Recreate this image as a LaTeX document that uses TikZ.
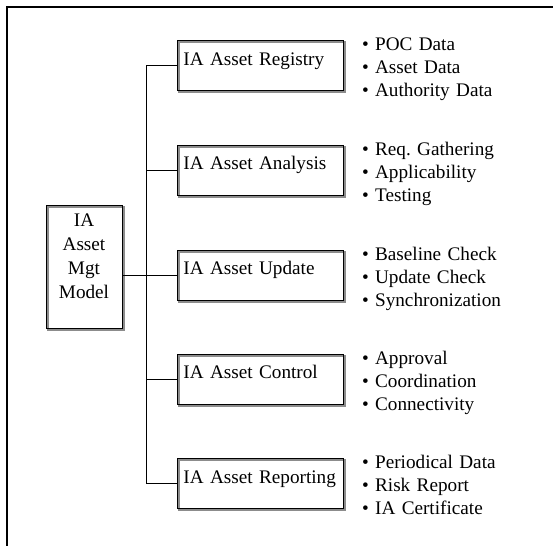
\documentclass[tikz,border=0pt]{standalone}
\usepackage{fontspec}
\setmainfont{Liberation Serif}

\begin{document}
\begin{tikzpicture}[x=1pt, y=-1pt,
    box/.style={draw, line width=0.8pt, inner xsep=6pt, inner ysep=0pt,
      preaction={draw=black!45, line width=1.6pt, transform canvas={shift={(1.8pt,-1.8pt)}}}},
    branch/.style={box, anchor=north west, minimum width=166, minimum height=50,
      text width=154, align=left, text height=10pt, text depth=10pt},
    items/.style={anchor=base west, inner sep=0pt, text width=185, align=left},
    link/.style={line width=0.8pt}]
  \useasboundingbox (0,0) rectangle (553,546);
  \fontsize{19.2}{23}\selectfont
  % frame
  \draw[line width=2pt] (553,7) -- (7,7) -- (7,546);
  % model
  \node[box, anchor=north, inner xsep=0pt, minimum width=76, minimum height=123,
    text width=76, align=center, text height=13pt, text depth=93pt] (model) at (84,205)
    {IA\\[1pt]Asset\\[1pt]Mgt\\[1pt]Model};
  % branches
  \node[branch] (reg) at (177,40) {IA Asset Registry};
  \node[branch] (ana) at (177,144.5) {IA Asset Analysis};
  \node[branch] (upd) at (177,249.5) {IA Asset Update};
  \node[branch] (ctl) at (177,353.5) {IA Asset Control};
  \node[branch] (rep) at (177,458) {IA Asset Reporting};
  % items
  \node[items] (regl) at ([shift={(18,10.5)}]reg.north east)
    {\textbullet\ POC Data\\\textbullet\ Asset Data\\\textbullet\ Authority Data};
  \node[items] (anal) at ([shift={(18,10.5)}]ana.north east)
    {\textbullet\ Req.\ Gathering\\\textbullet\ Applicability\\\textbullet\ Testing};
  \node[items] (updl) at ([shift={(18,10.5)}]upd.north east)
    {\textbullet\ Baseline Check\\\textbullet\ Update Check\\\textbullet\ Synchronization};
  \node[items] (ctll) at ([shift={(18,10.5)}]ctl.north east)
    {\textbullet\ Approval\\\textbullet\ Coordination\\\textbullet\ Connectivity};
  \node[items] (repl) at ([shift={(18,10.5)}]rep.north east)
    {\textbullet\ Periodical Data\\\textbullet\ Risk Report\\\textbullet\ IA Certificate};
  % tree
  \coordinate (trunk) at (146,0);
  \draw[link] (reg.west) -- (reg.west -| trunk) -- (rep.west -| trunk) -- (rep.west);
  \draw[link] (ana.west) -- (ana.west -| trunk);
  \draw[link] (ctl.west) -- (ctl.west -| trunk);
  \draw[link] (model.east |- upd.west) -- (upd.west);
\end{tikzpicture}
\end{document}
